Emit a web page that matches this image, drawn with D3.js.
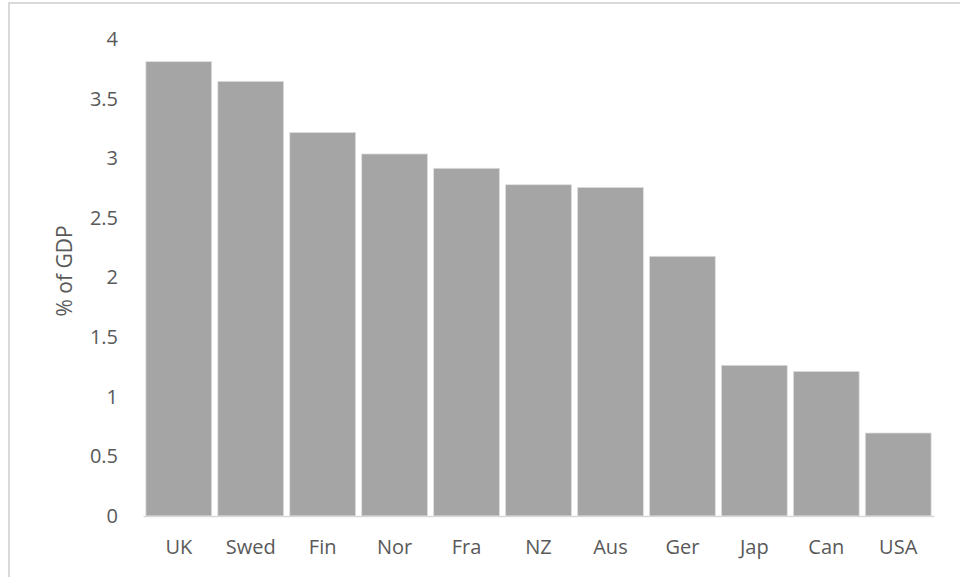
<!DOCTYPE html>
<html><head><meta charset="utf-8">
<script src="https://cdn.jsdelivr.net/npm/d3@7/dist/d3.min.js"></script>
<style>body{margin:0;background:#fff}svg{display:block}</style>
</head><body>
<script>
const categories = ["UK","Swed","Fin","Nor","Fra","NZ","Aus","Ger","Jap","Can","USA"];
const values = [3.81,3.645,3.217,3.036,2.916,2.778,2.756,2.178,1.264,1.213,0.696];
const yTicks = [0,0.5,1,1.5,2,2.5,3,3.5,4];
const yTitle = "% of GDP";

const W = 960, H = 577;
const svg = d3.select("body").append("svg").attr("width", W).attr("height", H);
const font = "'Open Sans', sans-serif";

svg.append("rect").attr("x", 9).attr("y", 3).attr("width", 1000).attr("height", 1000)
  .attr("fill", "none").attr("stroke", "#d9d9d9").attr("stroke-width", 2);

const x = d3.scaleBand().domain(categories).range([143, 934]).paddingInner(0.085).paddingOuter(0.04);
const y = d3.scaleLinear().domain([0, 4]).range([516, 39]);

svg.selectAll("rect.bar").data(values).enter().append("rect")
  .attr("class", "bar")
  .attr("x", (d, i) => x(categories[i]))
  .attr("width", x.bandwidth())
  .attr("y", d => y(d))
  .attr("height", d => y(0) - y(d))
  .attr("fill", "#a5a5a5")
  .attr("stroke", "#e0e0e0").attr("stroke-width", 0.75);

const xAxis = svg.append("g").attr("transform", "translate(0,516)")
  .call(d3.axisBottom(x).tickSize(0).tickPadding(24));
xAxis.select(".domain").attr("stroke", "#d9d9d9").attr("stroke-width", 1.5);
xAxis.selectAll("text").attr("font-family", font).attr("font-size", 20).attr("fill", "#595959");

const yAxis = svg.append("g").attr("transform", "translate(143,0)")
  .call(d3.axisLeft(y).tickValues(yTicks).tickFormat(d3.format("")).tickSize(0).tickPadding(25));
yAxis.select(".domain").remove();
yAxis.selectAll("text").attr("font-family", font).attr("font-size", 20).attr("fill", "#595959");

svg.append("text").attr("transform", "translate(72,271) rotate(-90)")
  .attr("text-anchor", "middle").attr("font-family", font).attr("font-size", 21)
  .attr("fill", "#595959").text(yTitle);
</script>
</body></html>
